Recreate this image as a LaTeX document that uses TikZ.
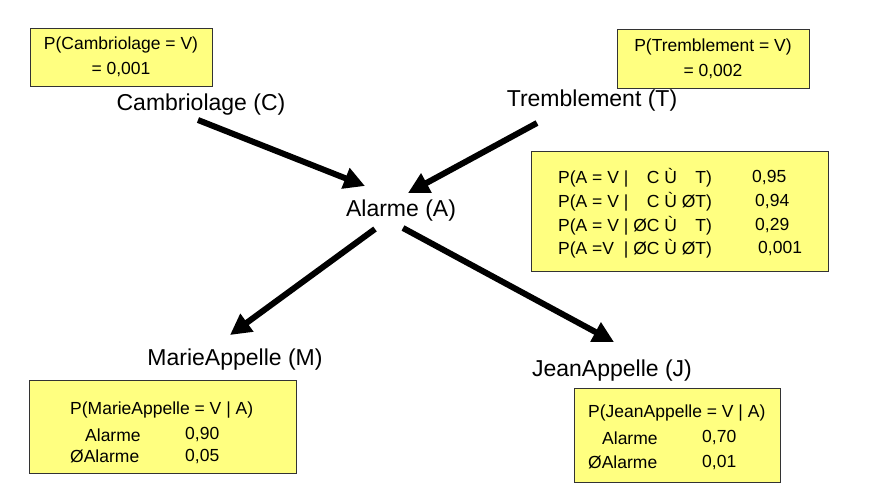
\documentclass[tikz,border=0pt]{standalone}
\usepackage{fontspec}
\setmainfont{Liberation Sans}
\usetikzlibrary{arrows.meta}
\definecolor{boxyellow}{HTML}{FFFF80}
\definecolor{boxline}{HTML}{333333}
\newcommand\bigtxt{\fontsize{23}{27}\selectfont}
\newcommand\smalltxt{\fontsize{17.5}{25}\selectfont}
\begin{document}
\begin{tikzpicture}[x=1pt,y=-1pt,
  probbox/.style={draw=boxline, line width=1pt, fill=boxyellow, inner sep=0pt},
  vartxt/.style={font=\bigtxt, inner sep=0pt},
  cell/.style={font=\smalltxt, inner sep=0pt, anchor=west},
  bigarrow/.style={line width=6pt, -{Triangle[length=21pt,width=21pt]}}]
\useasboundingbox (0,0) rectangle (870,499);
% prior boxes
\node[probbox, minimum width=182pt, minimum height=58pt, align=center, font=\smalltxt] (pc) at (121,57) {P(Cambriolage = V)\\= 0,001};
\node[probbox, minimum width=192pt, minimum height=59pt, align=center, font=\smalltxt] (pt) at (713,58.5) {P(Tremblement = V)\\= 0,002};
% CPT for alarm
\node[probbox, minimum width=297pt, minimum height=120pt] (pa) at (679.5,211) {};
\node[cell] (r1) at (558,178) {P(A = V | \phantom{Ø}C Ù \phantom{Ø}T)};
\node[cell] (r2) at (558,202) {P(A = V | \phantom{Ø}C Ù ØT)};
\node[cell] (r3) at (558,226) {P(A = V | ØC Ù \phantom{Ø}T)};
\node[cell] (r4) at (558,249) {P(A =V\ \ | ØC Ù ØT)};
\node[cell] (v1) at (752,178) {0,95};
\node[cell] (v2) at (755,202) {0,94};
\node[cell] (v3) at (755,226) {0,29};
\node[cell] (v4) at (758,249) {0,001};
% Marie box
\node[probbox, minimum width=267pt, minimum height=93pt] (pm) at (162.5,426.5) {};
\node[cell] (m0) at (70,410) {P(MarieAppelle = V | A)};
\node[cell] (m1) at (85,435) {Alarme};
\node[cell] (m2) at (185,435) {0,90};
\node[cell] (m3) at (70,456) {ØAlarme};
\node[cell] (m4) at (185,456) {0,05};
% Jean box
\node[probbox, minimum width=206pt, minimum height=94pt] (pj) at (677,435) {};
\node[cell] (j0) at (588,413) {P(JeanAppelle = V | A)};
\node[cell] (j1) at (602,438) {Alarme};
\node[cell] (j2) at (702,438) {0,70};
\node[cell] (j3) at (588,462) {ØAlarme};
\node[cell] (j4) at (702,462) {0,01};
% variables
\node[vartxt] (C) at (201,105) {Cambriolage (C)};
\node[vartxt] (T) at (592,101) {Tremblement (T)};
\node[vartxt] (A) at (401,211) {Alarme (A)};
\node[vartxt] (M) at (235,360) {MarieAppelle (M)};
\node[vartxt] (J) at (612,371) {JeanAppelle (J)};
% arrow end points
\coordinate (cout) at (198,120);
\coordinate (ainc) at (365,186);
\coordinate (tout) at (537,123);
\coordinate (aint) at (408,193);
\coordinate (aoutm) at (375,229);
\coordinate (min) at (230,335);
\coordinate (aoutj) at (403,228);
\coordinate (jin) at (614,342);
\draw[bigarrow] (cout) -- (ainc);
\draw[bigarrow] (tout) -- (aint);
\draw[bigarrow] (aoutm) -- (min);
\draw[bigarrow] (aoutj) -- (jin);
\end{tikzpicture}
\end{document}
